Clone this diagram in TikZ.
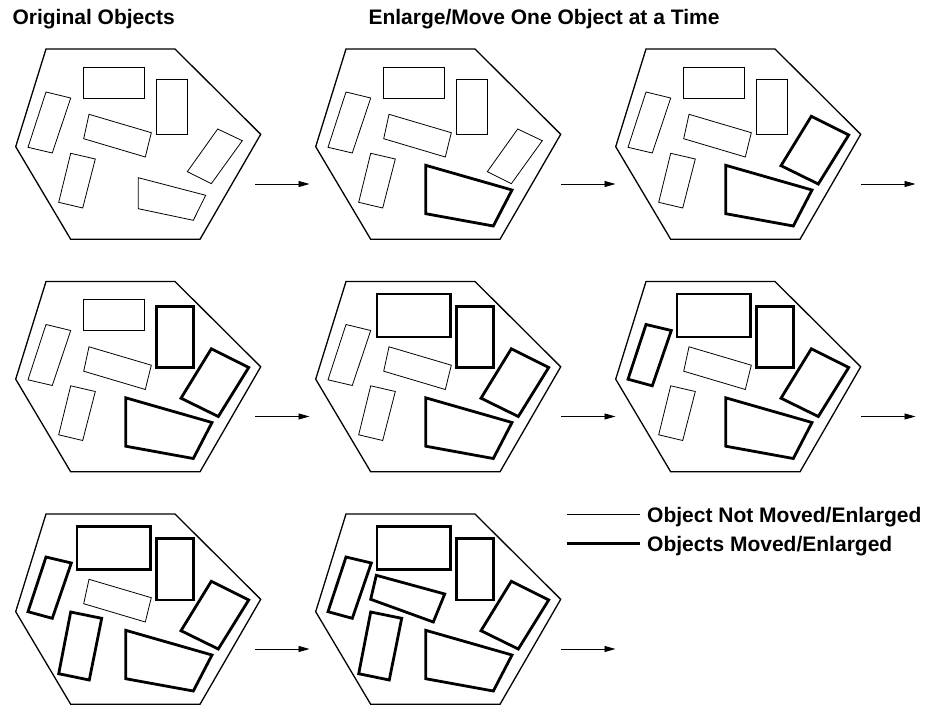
\documentclass[tikz,border=0pt]{standalone}
\usepackage{fontspec}
\setmainfont{Liberation Sans}
\usetikzlibrary{arrows.meta}

\begin{document}
\begin{tikzpicture}[x=1pt,y=-1pt]
        % one object enlarged or moved per panel, left to right, top to bottom
        \tikzset{hull/.style={line width=1.3pt},
            thinobj/.style={line width=0.8pt},
            boldobj/.style={line width=2.8pt},
            heading/.style={font=\bfseries\fontsize{21}{25}\selectfont,inner ysep=0pt,anchor=base west},
            step arrow/.style={line width=0.9pt,-{Triangle[length=11pt,width=6pt]}}}
        \newcommand{\Blob}[3]{% step, thin path, bold path
            \ifnum\p<#1\relax \draw[thinobj] #2; \else \draw[boldobj] #3; \fi
        }

        \useasboundingbox (0,0) rectangle (928,706);

        \foreach \p/\dx/\dy/\ax in {0/0/0/255, 1/300/0/261, 2/600/0/261,
                3/0/232.5/255, 4/300/232.5/261, 5/600/232.5/261,
                6/0/465/255, 7/300/465/261} {
            \begin{scope}[shift={(\dx,\dy)}]
                \draw[hull] (46,49) -- (175,49) -- (260.7,134.3) -- (200,239.3)
                    -- (70.7,239.3) -- (15.7,146.7) -- cycle;
                \Blob{4}{(83.3,67.3) rectangle (144.3,98)}{(77,61.5) rectangle (150.3,104.4)}
                \Blob{3}{(156.3,79.7) rectangle (187.3,134.7)}{(156.3,73.6) rectangle (193.3,134.9)}
                \Blob{5}{(46,92) -- (70.7,98) -- (52.3,153) -- (28,147.3) -- cycle}
                    {(46,92) -- (71.3,98) -- (52.3,153.3) -- (28,146.7) -- cycle}
                \Blob{7}{(89,114.3) -- (151.3,132.7) -- (145.3,157) -- (83.7,138.7) -- cycle}
                    {(76.3,110.3) -- (144.7,129) -- (133.3,157) -- (70.7,134.3) -- cycle}
                \Blob{6}{(70.7,153.3) -- (95.3,159) -- (82.7,208) -- (58.7,202.3) -- cycle}
                    {(70.7,147) -- (101.7,153.3) -- (89.3,215) -- (58.7,208.7) -- cycle}
                \Blob{2}{(217.7,129) -- (242.3,140.7) -- (211.3,183.7) -- (187.3,171.7) -- cycle}
                    {(211.3,116.3) -- (248.7,135) -- (218.3,184) -- (181,165.7) -- cycle}
                \Blob{1}{(138.3,177.7) -- (205.7,195.3) -- (193.3,220.3) -- (138.3,208.7) -- cycle}
                    {(125.7,165.3) -- (212,190) -- (193.3,226) -- (125.7,213.7) -- cycle}
                \coordinate (from\p) at (\ax,184);
                \coordinate (to\p) at (\ax+54.5,184);
                \draw[step arrow] (from\p) -- (to\p);
            \end{scope}
        }

        \node[heading] (orig) at (9,25) {Original Objects};
        \node[heading] (enlarge) at (365,25) {Enlarge/Move One Object at a Time};

        \coordinate (keya) at (567,514);
        \coordinate (keyb) at (567,543.3);
        \node[heading,inner xsep=7pt] (notmoved) at (640,522) {Object Not Moved/Enlarged};
        \node[heading,inner xsep=7pt] (moved) at (640,551) {Objects Moved/Enlarged};
        \draw[thinobj] (keya) -- (keya -| notmoved.west);
        \draw[boldobj] (keyb) -- (keyb -| moved.west);
    \end{tikzpicture}
\end{document}
